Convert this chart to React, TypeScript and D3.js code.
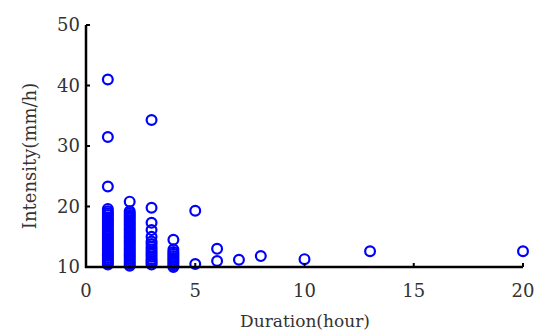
import React, { useEffect, useRef } from "react";
import * as d3 from "d3";

// duration (hour) and intensity (mm/h) of each event
const dur1 = [41, 31.5, 23.3, 19.6, 19.2, 18.9, 18.6, 18.2, 17.9, 17.6, 17.3, 17, 16.7, 16.3, 16, 15.7, 15.4, 15.1, 14.8, 14.5, 14.2, 13.9, 13.6, 13.3, 13, 12.7, 12.4, 12.1, 11.8, 11.5, 11.2, 10.9, 10.6, 10.4];
const dur2 = [20.8, 19.2, 18.9, 18.6, 18.3, 18, 17.7, 17.4, 17.1, 16.8, 16.5, 16.2, 15.9, 15.6, 15.3, 15, 14.7, 14.4, 14.1, 13.8, 13.5, 13.2, 12.9, 12.6, 12.3, 12, 11.7, 11.4, 11.1, 10.8, 10.5, 10.2];
const dur3 = [34.3, 19.8, 17.3, 16.1, 15, 14.2, 13.8, 13.3, 12.9, 12.5, 12.1, 11.7, 11.3, 11, 10.7, 10.4];
const dur4 = [14.5, 12.9, 12.5, 12.2, 11.8, 11.5, 11.2, 10.9, 10.6, 10.3, 10];
const dur5 = [19.3, 10.5];
const dur6 = [13, 11];
const others = [
  { x: 7, y: 11.2 },
  { x: 8, y: 11.8 },
  { x: 10, y: 11.3 },
  { x: 13, y: 12.6 },
  { x: 20, y: 12.6 },
];

const xTicks = [0, 5, 10, 15, 20];
const yTicks = [10, 20, 30, 40, 50];

const points = [
  ...dur1.map((y) => ({ x: 1, y })),
  ...dur2.map((y) => ({ x: 2, y })),
  ...dur3.map((y) => ({ x: 3, y })),
  ...dur4.map((y) => ({ x: 4, y })),
  ...dur5.map((y) => ({ x: 5, y })),
  ...dur6.map((y) => ({ x: 6, y })),
  ...others,
];

const App = () => {
  const ref = useRef<SVGSVGElement>(null);

  useEffect(() => {
    const svg = d3.select(ref.current);
    svg.selectAll("*").remove();

    const x = d3.scaleLinear().domain([0, 20]).range([86, 523]);
    const y = d3.scaleLinear().domain([10, 50]).range([267, 25]);
    const font = "'DejaVu Serif', serif";

    // points first so the axis sits on top
    svg.append("g")
      .selectAll("circle")
      .data(points)
      .enter()
      .append("circle")
      .attr("cx", (d) => x(d.x))
      .attr("cy", (d) => y(d.y))
      .attr("r", 4.9)
      .attr("fill", "none")
      .attr("stroke", "#0000ff")
      .attr("stroke-width", 2.2);

    // axes
    svg.append("path")
      .attr("d", `M${x(0)},${y(50)}V${y(10)}H${x(20)}`)
      .attr("fill", "none")
      .attr("stroke", "#000")
      .attr("stroke-width", 2.5);

    svg.append("g")
      .selectAll("line")
      .data(xTicks)
      .enter()
      .append("line")
      .attr("x1", (d) => x(d))
      .attr("x2", (d) => x(d))
      .attr("y1", y(10))
      .attr("y2", y(10) - 4)
      .attr("stroke", "#000")
      .attr("stroke-width", 2);

    svg.append("g")
      .selectAll("line")
      .data(yTicks)
      .enter()
      .append("line")
      .attr("x1", x(0))
      .attr("x2", x(0) + 4)
      .attr("y1", (d) => y(d))
      .attr("y2", (d) => y(d))
      .attr("stroke", "#000")
      .attr("stroke-width", 2);

    svg.append("g")
      .selectAll("text")
      .data(xTicks)
      .enter()
      .append("text")
      .attr("x", (d) => x(d))
      .attr("y", 297)
      .attr("text-anchor", "middle")
      .attr("font-family", font)
      .attr("font-size", 18)
      .attr("fill", "#333")
      .text((d) => d);

    svg.append("g")
      .selectAll("text")
      .data(yTicks)
      .enter()
      .append("text")
      .attr("x", 80)
      .attr("y", (d) => y(d) + 6)
      .attr("text-anchor", "end")
      .attr("font-family", font)
      .attr("font-size", 18)
      .attr("fill", "#333")
      .text((d) => d);

    svg.append("text")
      .attr("x", 305)
      .attr("y", 327)
      .attr("text-anchor", "middle")
      .attr("font-family", font)
      .attr("font-size", 17)
      .attr("fill", "#333")
      .text("Duration(hour)");

    svg.append("text")
      .attr("transform", "translate(36,156) rotate(-90)")
      .attr("text-anchor", "middle")
      .attr("font-family", font)
      .attr("font-size", 18)
      .attr("fill", "#333")
      .text("Intensity(mm/h)");
  }, []);

  return (
    <svg
      ref={ref}
      width={539}
      height={331}
      style={{ position: "absolute", left: 0, top: 0, background: "#fff" }}
    />
  );
};

export default App;
